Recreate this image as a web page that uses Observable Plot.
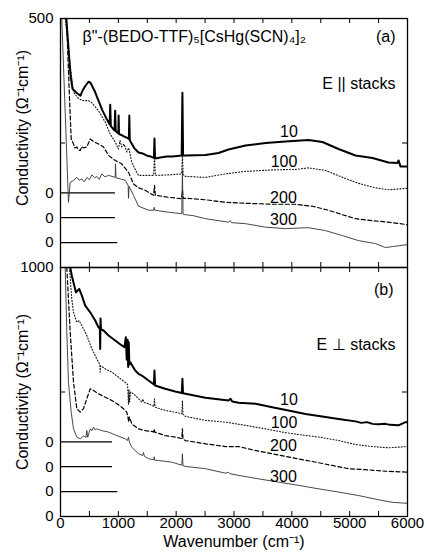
<!DOCTYPE html>
<html><head><meta charset="utf-8">
<script src="https://cdn.jsdelivr.net/npm/d3@7"></script>
<script src="https://cdn.jsdelivr.net/npm/@observablehq/plot@0.6"></script>
<style>
body{margin:0;background:#fff;}
#chart{width:427px;}
#chart svg{display:block;}
</style></head><body><div id="chart"></div>
<script>
// ---- data (wavenumber cm^-1, conductivity Ohm^-1 cm^-1, before offset) ----
const temps = ["10", "100", "200", "300"];

// panel (a): E || stacks
const a10 = [[100,350],[173,236],[207,209],[277,201],[346,195],[380,205],[432,215],[484,223],[519,221],[588,205],[657,185],[726,165],[795,149],
  [850,137],[860,177],[870,134],[934,125],[945,165],[955,124],[1000,119],[1005,155],[1012,118],[1072,115],[1141,111],
  [1182,108],[1190,155],[1198,106],[1210,103],[1280,89],[1349,81],[1418,79],[1487,75],[1556,73],[1615,70],[1625,109],[1635,69],
  [1729,71],[1833,73],[1937,73],[2095,75],[2108,201],[2120,75],[2161,75],[2507,76],[2732,80],[2905,87],[3199,95],[3545,100],
  [3890,103],[4288,106],[4530,102],[4807,88],[5101,75],[5395,70],[5671,61],[5827,60],[5845,65],[5879,53],[6000,53]];
const a100 = [[81,400],[109,373],[168,306],[225,252],[311,239],[398,235],[484,235],[541,231],[657,215],[773,192],[859,168],
  [946,152],[1000,138],[1030,155],[1060,142],[1100,148],[1146,132],[1180,140],[1233,111],[1319,91],[1349,85],[1500,85],[1610,85],
  [1625,125],[1640,85],[1867,86],[2095,88],[2108,125],[2122,86],[2161,83],[2507,81],[2853,88],[3199,93],[3666,96],[4063,97],
  [4288,100],[4582,95],[4876,81],[5153,69],[5447,60],[5671,56],[6000,59]];
const a200 = [[104,450],[156,289],[185,208],[225,198],[250,190],[282,192],[310,186],[341,185],[370,193],[398,190],[455,192],
  [514,208],[571,203],[657,198],[744,192],[830,175],[946,165],[1060,158],[1176,141],[1262,118],[1349,110],[1465,105],[1610,95],
  [1625,115],[1640,95],[1867,91],[2095,88],[2108,105],[2122,89],[2161,89],[2507,86],[2853,81],[3199,79],[3666,77],[4063,77],
  [4357,73],[4634,65],[4876,56],[5101,48],[5395,44],[5671,41],[6000,36]];
const a300 = [[22,500],[138,131],[168,171],[225,175],[282,181],[320,175],[368,178],[410,172],[455,181],[500,176],[541,186],
  [590,180],[628,183],[670,177],[714,188],[770,182],[830,185],[946,181],[951,208],[960,180],[1032,178],[1119,175],[1170,165],
  [1176,139],[1185,163],[1262,145],[1349,123],[1522,115],[1610,115],[1620,121],[1630,115],[1867,111],[2097,108],[2108,195],
  [2120,107],[2161,106],[2300,104],[2507,98],[2905,91],[2940,94],[2960,90],[3199,88],[3545,81],[3890,78],[4288,80],[4582,74],
  [4876,64],[5153,54],[5447,48],[5620,40],[5740,42],[6000,46]];

// panel (b): E perpendicular to stacks
const b10 = [[168,700],[195,668],[216,648],[268,600],[323,614],[368,588],[427,547],[514,520],[600,487],[657,460],[680,455],
  [686,373],[692,495],[700,452],[744,447],[830,427],[946,407],[1060,387],[1107,380],[1130,420],[1145,330],[1160,410],[1170,300],
  [1180,400],[1190,310],[1205,320],[1292,286],[1349,273],[1406,266],[1430,262],[1522,246],[1615,230],[1625,286],[1635,226],
  [1810,213],[1983,202],[2098,196],[2108,253],[2118,195],[2161,193],[2507,177],[2796,169],[2905,166],[2940,173],[2970,162],
  [3078,157],[3372,153],[3660,139],[3942,126],[4236,112],[4525,102],[4807,92],[5101,82],[5200,76],[5300,79],[5395,72],
  [5500,70],[5620,72],[5700,68],[5845,66],[5965,79],[6000,79]];
const b100 = [[156,800],[195,674],[225,620],[282,580],[323,587],[368,567],[455,527],[541,474],[628,433],[680,410],[686,380],
  [695,405],[773,393],[887,380],[1003,359],[1119,339],[1160,330],[1175,250],[1185,310],[1195,260],[1210,300],[1262,293],
  [1349,273],[1406,259],[1425,272],[1440,258],[1522,253],[1615,242],[1625,273],[1635,239],[1810,226],[1983,219],[2098,213],
  [2108,266],[2118,210],[2161,202],[2507,186],[2853,179],[3199,166],[3545,152],[3833,139],[4120,129],[4466,119],[4812,105],
  [5101,89],[5390,81],[5677,76],[6000,81]];
const b200 = [[109,900],[168,640],[225,439],[282,333],[341,319],[398,333],[455,373],[514,413],[571,406],[657,393],[773,379],
  [887,366],[1003,349],[1089,333],[1146,319],[1165,300],[1180,279],[1190,300],[1233,272],[1349,252],[1465,245],[1610,240],
  [1620,252],[1630,239],[1810,225],[1983,219],[2098,213],[2108,252],[2118,210],[2161,205],[2507,192],[2853,181],[3083,181],
  [3314,168],[3660,152],[4006,136],[4352,121],[4698,105],[4985,92],[5274,88],[5620,82],[6000,78]];
const b300 = [[81,1000],[109,740],[138,539],[185,419],[225,352],[282,319],[341,312],[398,323],[440,318],[455,345],[470,318],
  [514,352],[545,345],[571,359],[600,348],[628,352],[714,345],[830,339],[973,325],[1119,312],[1158,305],[1176,319],[1190,300],
  [1233,278],[1349,252],[1420,245],[1435,257],[1450,242],[1522,232],[1610,228],[1620,240],[1630,226],[1695,225],[1925,218],
  [2098,206],[2108,252],[2118,204],[2161,201],[2507,192],[2853,174],[2905,178],[2930,172],[3083,165],[3429,151],[3775,138],
  [4120,125],[4466,111],[4812,98],[5158,84],[5504,67],[5735,57],[6000,53]];

// vertical offsets of each curve, and extent of the drawn zero lines
const offsetsA = [150, 100, 50, 0];
const offsetsB = [300, 200, 100, 0];
const zeroEndA = [950, 950, 990];
const zeroEndB = [900, 900, 990];

// tick values and labels
const xTickVals = [0,500,1000,1500,2000,2500,3000,3500,4000,4500,5000,5500,6000];
const xTickLabels = [0,1000,2000,3000,4000,5000,6000];
const yTicksA = [250];
const yTicksB = [500];
const yLabelsA = [{v:500,s:"500"},{v:150,s:"0"},{v:100,s:"0"},{v:50,s:"0"}];
const yLabelsB = [{v:1000,s:"1000"},{v:300,s:"0"},{v:200,s:"0"},{v:100,s:"0"},{v:0,s:"0"}];

// curve annotations (temperature in K)
const curveLabelsA = [{x:3950,y:273,s:"10"},{x:3865,y:213,s:"100"},{x:3855,y:140,s:"200"},{x:3855,y:96,s:"300"}];
const curveLabelsB = [{x:3950,y:470,s:"10"},{x:3865,y:375,s:"100"},{x:3855,y:285,s:"200"},{x:3855,y:161,s:"300"}];

// line styles per temperature
const lineStyle = {
  "10":  {stroke:"#000", strokeWidth:2},
  "100": {stroke:"#111", strokeWidth:1.1, strokeDasharray:"1,2"},
  "200": {stroke:"#000", strokeWidth:1.2, strokeDasharray:"4,2.5"},
  "300": {stroke:"#333", strokeWidth:0.9}
};

const W = 427, ML = 60, MR = 20;
const FW = W - ML - MR;
const FONT = "font-family:'Liberation Sans',Arial,Helvetica,sans-serif;font-size:15px;overflow:visible;background:white;";

function panel(cfg) {
  const FH = cfg.height - cfg.mt - cfg.mb;
  const ty = 5 * cfg.ymax / FH;      // 5px tick length in y units
  const tx = 5 * 6000 / FW;          // 5px tick length in x units
  const zeros = cfg.zeroEnd.map((e, i) => ({v: cfg.offsets[i], end: e}));
  const lines = cfg.series.map((s, i) => Plot.line(
    s.map(([x, v]) => ({x, y: v + cfg.offsets[i]})),
    {x: "x", y: "y", clip: true, strokeLinejoin: "round", ...lineStyle[temps[i]]}
  ));
  const marks = [
    Plot.ruleY(zeros, {y: "v", x1: 0, x2: "end", stroke: "black", strokeWidth: 1.2}),
    ...lines,
    Plot.ruleX(xTickVals, {x: d => d, y1: cfg.ymax, y2: cfg.ymax - ty, stroke: "black"}),
    Plot.ruleX(xTickVals, {x: d => d, y1: 0, y2: ty, stroke: "black"}),
    Plot.ruleY(cfg.yTicks, {y: d => d, x1: 0, x2: tx, stroke: "black"}),
    Plot.ruleY(cfg.yTicks, {y: d => d, x1: 6000 - tx, x2: 6000, stroke: "black"}),
    Plot.frame({stroke: "black", strokeWidth: 1.3}),
    Plot.text(cfg.yLabels, {y: "v", text: "s", frameAnchor: "left", dx: -7, textAnchor: "end", fontSize: 15, fill: "black"}),
    Plot.text(cfg.curveLabels, {x: "x", y: "y", text: "s", fontSize: 16, fill: "black"}),
    Plot.text(["Conductivity (Ω⁻¹cm⁻¹)"], {text: d => d, frameAnchor: "left", textAnchor: "middle", rotate: -90, dx: -38, dy: cfg.ylabDy, fontSize: 16, fill: "black"}),
    ...cfg.extra
  ];
  return Plot.plot({
    width: W, height: cfg.height,
    marginLeft: ML, marginRight: MR, marginTop: cfg.mt, marginBottom: cfg.mb,
    x: {domain: [0, 6000], axis: null},
    y: {domain: [0, cfg.ymax], axis: null},
    style: FONT,
    marks
  });
}

const panelA = panel({
  height: 267, mt: 18, mb: 0, ymax: 500,
  series: [a10, a100, a200, a300], offsets: offsetsA, zeroEnd: zeroEndA,
  yTicks: yTicksA, yLabels: yLabelsA, curveLabels: curveLabelsA, ylabDy: -15,
  extra: [
    Plot.text(["β\"-(BEDO-TTF)₅[CsHg(SCN)₄]₂"], {text: d => d, frameAnchor: "top-left", dx: 22, dy: 12, textAnchor: "start", fontSize: 16, fill: "black"}),
    Plot.text(["(a)"], {text: d => d, frameAnchor: "top-right", dx: -12, dy: 12, textAnchor: "end", fontSize: 16, fill: "black"}),
    Plot.text(["E || stacks"], {text: d => d, frameAnchor: "top-right", dx: -12, dy: 59, textAnchor: "end", fontSize: 16, fill: "black"})
  ]
});

const panelB = panel({
  height: 289, mt: 0, mb: 40, ymax: 1000,
  series: [b10, b100, b200, b300], offsets: offsetsB, zeroEnd: zeroEndB,
  yTicks: yTicksB, yLabels: yLabelsB, curveLabels: curveLabelsB, ylabDy: 0,
  extra: [
    Plot.text(["(b)"], {text: d => d, frameAnchor: "top-right", dx: -14, dy: 16, textAnchor: "end", fontSize: 16, fill: "black"}),
    Plot.text(["E ⊥ stacks"], {text: d => d, frameAnchor: "top-right", dx: -12, dy: 71, textAnchor: "end", fontSize: 16, fill: "black"}),
    Plot.text(xTickLabels, {x: d => d, text: d => String(d), frameAnchor: "bottom", dy: 11, fontSize: 15, fill: "black"}),
    Plot.text(["Wavenumber (cm⁻¹)"], {text: d => d, frameAnchor: "bottom", dy: 30, fontSize: 16, fill: "black"})
  ]
});

const host = document.getElementById("chart");
host.appendChild(panelA);
host.appendChild(panelB);
</script>
</body></html>
